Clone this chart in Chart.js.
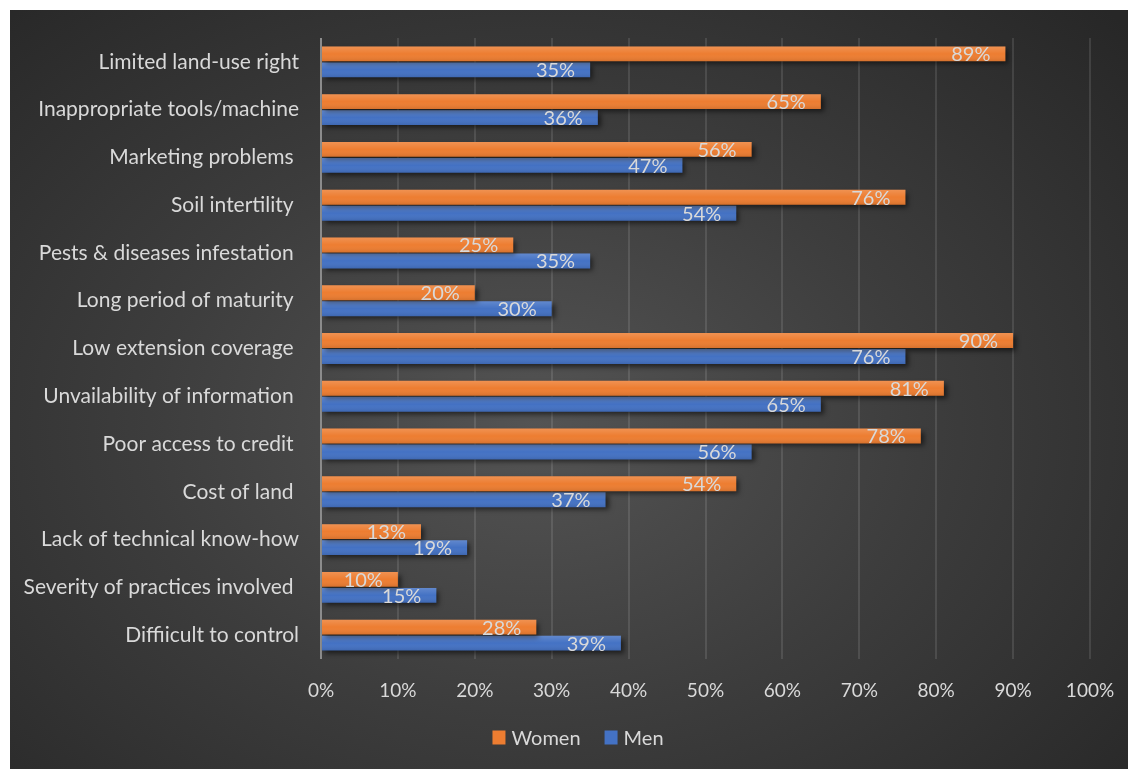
<!DOCTYPE html>
<html>
<head>
<meta charset="utf-8">
<script src="https://cdn.jsdelivr.net/npm/chart.js@4.4.1/dist/chart.umd.min.js"></script>
<style>
  html, body { margin: 0; padding: 0; background: #ffffff; }
  #panel {
    position: absolute; left: 10px; top: 10px; width: 1118px; height: 759px;
    background: radial-gradient(ellipse 72% 78% at 47% 55%, #545454 0%, #3d3d3d 48%, #272727 100%);
  }
  canvas { display: block; }
</style>
</head>
<body>
<div id="panel"><canvas id="c" width="1118" height="759"></canvas></div>
<script>
// Constraint categories (trailing spaces kept as typed in the source sheet)
const categories = [
  "Limited land-use right",
  "Inappropriate tools/machine",
  "Marketing problems ",
  "Soil intertility ",
  "Pests & diseases infestation ",
  "Long period of maturity ",
  "Low extension coverage ",
  "Unvailability of information ",
  "Poor access to credit ",
  "Cost of land ",
  "Lack of technical know-how",
  "Severity of practices involved ",
  "Diffiicult to control"
];

// Share of respondents (%) citing each constraint
const women = [89, 65, 56, 76, 25, 20, 90, 81, 78, 54, 13, 10, 28];
const men   = [35, 36, 47, 54, 35, 30, 76, 65, 56, 37, 19, 15, 39];

// Axis tick range (%)
const xMin = 0, xMax = 100, xStep = 10;

const seriesNames = ["Women", "Men"];
const seriesColors = ["#ED7D31", "#4472C4"];

const FONT = "Lato, 'Open Sans', sans-serif";
const TEXT = "#d9d9d9";

// Soft drop shadow under the bars, plus a subtle top-lit sheen and value labels
const barStyle = {
  id: "barStyle",
  beforeDatasetsDraw(chart) {
    const ctx = chart.ctx;
    ctx.save();
    ctx.shadowColor = "rgba(0,0,0,0.55)";
    ctx.shadowBlur = 5;
    ctx.shadowOffsetX = 3;
    ctx.shadowOffsetY = 3;
  },
  afterDatasetsDraw(chart) {
    const ctx = chart.ctx;
    ctx.restore();
    ctx.save();
    chart.data.datasets.forEach((ds, di) => {
      const meta = chart.getDatasetMeta(di);
      meta.data.forEach((bar, i) => {
        const p = bar.getProps(["x", "y", "base", "height"], true);
        const top = p.y - p.height / 2;
        const g = ctx.createLinearGradient(0, top, 0, top + p.height);
        g.addColorStop(0, "rgba(255,255,255,0.16)");
        g.addColorStop(0.5, "rgba(255,255,255,0.0)");
        g.addColorStop(1, "rgba(0,0,0,0.10)");
        ctx.fillStyle = g;
        ctx.fillRect(p.base, top, p.x - p.base, p.height);

        ctx.font = "20px " + FONT;
        ctx.fillStyle = TEXT;
        ctx.textAlign = "right";
        ctx.textBaseline = "middle";
        ctx.fillText(ds.data[i] + "%", p.x - 15, p.y + 1);
      });
    });
    ctx.restore();
  }
};

// Legend drawn beneath the axis, centred on the panel
const bottomLegend = {
  id: "bottomLegend",
  afterDraw(chart) {
    const ctx = chart.ctx;
    ctx.save();
    ctx.font = "20px " + FONT;
    const box = 13, gap = 6, spacing = 24;
    const items = chart.data.datasets.map(d => ({ label: d.label, color: d.backgroundColor, w: ctx.measureText(d.label).width }));
    const total = items.reduce((s, it) => s + box + gap + it.w, 0) + spacing * (items.length - 1);
    let x = 568 - total / 2;
    const cy = 728;
    ctx.textBaseline = "middle";
    ctx.textAlign = "left";
    items.forEach(it => {
      ctx.fillStyle = it.color;
      ctx.fillRect(x, cy - box / 2 - 1, box, box + 1);
      x += box + gap;
      ctx.fillStyle = TEXT;
      ctx.fillText(it.label, x, cy + 1);
      x += it.w + spacing;
    });
    ctx.restore();
  }
};

new Chart(document.getElementById("c"), {
  type: "bar",
  data: {
    labels: categories,
    datasets: [
      { label: seriesNames[0], data: women, backgroundColor: seriesColors[0], categoryPercentage: 0.67, barPercentage: 0.93 },
      { label: seriesNames[1], data: men, backgroundColor: seriesColors[1], categoryPercentage: 0.67, barPercentage: 0.93 }
    ]
  },
  options: {
    indexAxis: "y",
    responsive: false,
    animation: false,
    devicePixelRatio: 1,
    layout: { padding: { top: 28, right: 38, bottom: 0, left: 0 } },
    plugins: { legend: { display: false }, tooltip: { enabled: false } },
    scales: {
      x: {
        min: xMin, max: xMax,
        ticks: {
          stepSize: xStep,
          callback: v => v + "%",
          color: TEXT,
          font: { family: FONT, size: 19 },
          padding: 20,
          maxRotation: 0
        },
        grid: {
          drawTicks: false,
          lineWidth: 2,
          color: c => (c.tick && c.tick.value === 0) ? "#8c8c8c" : "rgba(255,255,255,0.11)"
        },
        border: { display: false },
        afterFit: s => { s.height = 110; s.paddingLeft = 0; s.paddingRight = 0; }
      },
      y: {
        ticks: {
          color: TEXT,
          font: { family: FONT, size: 21 },
          padding: 22,
          autoSkip: false
        },
        grid: { display: false, drawTicks: false },
        border: { display: false },
        afterFit: s => { s.width = 311; s.paddingTop = 0; s.paddingBottom = 0; }
      }
    }
  },
  plugins: [barStyle, bottomLegend]
});
</script>
</body>
</html>
